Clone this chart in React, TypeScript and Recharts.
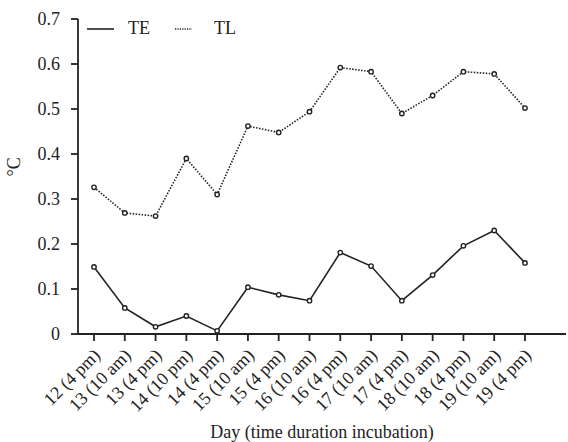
import { LineChart, Line, XAxis, YAxis } from 'recharts'

const days = [
  '12 (4 pm)', '13 (10 am)', '13 (4 pm)', '14 (10 pm)', '14 (4 pm)',
  '15 (10 am)', '15 (4 pm)', '16 (10 am)', '16 (4 pm)', '17 (10 am)',
  '17 (4 pm)', '18 (10 am)', '18 (4 pm)', '19 (10 am)', '19 (4 pm)',
]
const te = [0.149, 0.058, 0.016, 0.04, 0.007, 0.104, 0.087, 0.074, 0.181, 0.151, 0.074, 0.131, 0.196, 0.23, 0.158]
const tl = [0.326, 0.269, 0.262, 0.39, 0.31, 0.462, 0.448, 0.494, 0.592, 0.583, 0.49, 0.53, 0.583, 0.578, 0.502]
const yTicks = [0, 0.1, 0.2, 0.3, 0.4, 0.5, 0.6, 0.7]

const data = days.map((d, i) => ({ day: d, TE: te[i], TL: tl[i] }))

const FONT = '"Liberation Serif", "Times New Roman", serif'
const INK = '#222'

function DayTick({ x, y, payload }: any) {
  const ax = x + 3
  const ay = y + 9
  return (
    <text
      x={ax}
      y={ay}
      transform={`rotate(-45 ${ax} ${ay})`}
      textAnchor="end"
      dominantBaseline="central"
      fontSize={18}
      fill={INK}
    >
      {payload.value}
    </text>
  )
}

function ValueTick({ x, y, payload }: any) {
  const v = payload.value as number
  return (
    <text x={x - 9} y={y} textAnchor="end" dominantBaseline="central" fontSize={18} fill={INK}>
      {v === 0 ? '0' : v.toFixed(1)}
    </text>
  )
}

// legend drawn as an overlay so it doesn't push the plot down
function KeyLegend() {
  return (
    <div style={{ position: 'absolute', top: 18, left: 87, display: 'flex', alignItems: 'center', fontSize: 18, color: INK }}>
      <svg width={28} height={10}><line x1={0} y1={5} x2={27} y2={5} stroke={INK} strokeWidth={1.6} /></svg>
      <span style={{ marginLeft: 13 }}>TE</span>
      <svg width={18} height={10} style={{ marginLeft: 25 }}><line x1={0} y1={5} x2={17} y2={5} stroke={INK} strokeWidth={1.3} strokeDasharray="1.2 1.2" /></svg>
      <span style={{ marginLeft: 21 }}>TL</span>
    </div>
  )
}

export default function App() {
  return (
    <div style={{ position: 'absolute', left: 0, top: 0, width: 568, height: 442, background: '#fff', fontFamily: FONT }}>
      <style>{`svg text, svg tspan { font-family: ${FONT} !important; }`}</style>
      <LineChart width={568} height={442} data={data} margin={{ top: 19, right: 2, bottom: 0, left: 0 }}>
        <XAxis
          dataKey="day"
          interval={0}
          tick={<DayTick />}
          tickSize={7}
          stroke={INK}
          strokeWidth={1.8}
          padding={{ left: 16, right: 41 }}
          height={108}
          label={{ value: 'Day (time duration incubation)', position: 'insideBottom', offset: 4, fontSize: 18, fill: INK }}
        />
        <YAxis
          domain={[0, 0.7]}
          ticks={yTicks}
          interval={0}
          width={78}
          tickSize={7}
          stroke={INK}
          strokeWidth={1.8}
          tick={<ValueTick />}
          label={{ value: '°C', angle: -90, position: 'insideLeft', offset: 14, fontSize: 18, fill: INK }}
        />
        <Line
          dataKey="TE"
          stroke={INK}
          strokeWidth={1.6}
          dot={{ r: 2.2, stroke: INK, strokeWidth: 1.4, fill: '#fff' }}
          isAnimationActive={false}
        />
        <Line
          dataKey="TL"
          stroke={INK}
          strokeWidth={1.6}
          strokeDasharray="1.5 1.5"
          dot={{ r: 2.2, stroke: INK, strokeWidth: 1.4, fill: '#fff', strokeDasharray: '' }}
          isAnimationActive={false}
        />
      </LineChart>
      <KeyLegend />
    </div>
  )
}
